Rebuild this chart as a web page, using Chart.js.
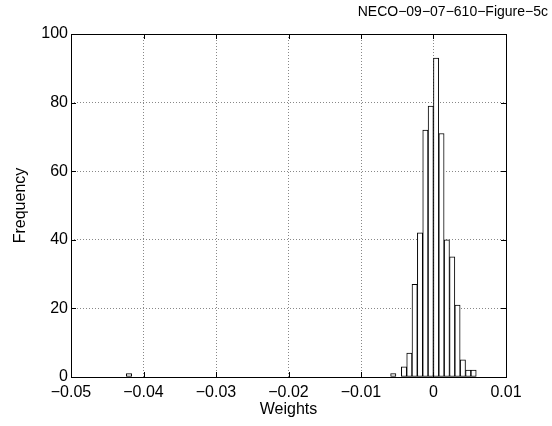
<!DOCTYPE html>
<html>
<head>
<meta charset="utf-8">
<script src="https://cdn.jsdelivr.net/npm/chart.js@4.4.1/dist/chart.umd.min.js"></script>
<style>
  html, body { margin: 0; background: #fff; }
  #wrap { width: 552px; height: 426px; }
</style>
</head>
<body>
<div id="wrap"><canvas id="histChart"></canvas></div>
<script>
/* --- Data --- */
const TITLE = 'NECO\u221209\u221207\u2212610\u2212Figure\u22125c';
const binCenters = [-0.04200, -0.00555, -0.00481, -0.00407, -0.00333, -0.00260, -0.00186,
                    -0.00112, -0.00038, 0.00036, 0.00110, 0.00184, 0.00258, 0.00331,
                    0.00405, 0.00479, 0.00553];
const counts = [1, 1, 0, 3, 7, 27, 42, 72, 79, 93, 71, 40, 35, 21, 5, 2, 2];
const xTicks = [-0.05, -0.04, -0.03, -0.02, -0.01, 0, 0.01];
const yTicks = [0, 20, 40, 60, 80, 100];

const FONT = '"Liberation Sans", Arial, Helvetica, sans-serif';
const TICK_LEN = 5;

Chart.defaults.font.family = FONT;
Chart.defaults.font.size = 16;
Chart.defaults.color = '#000';

function fmt(v) {
  if (Math.abs(v) < 1e-12) return '0';
  return (v < 0 ? '\u2212' : '') + Math.abs(v).toFixed(2);
}

/* --- MATLAB-ish box, inward ticks and the corner title --- */
const axesBoxPlugin = {
  id: 'axesBox',
  afterDraw(chart) {
    const { ctx, chartArea: { left, right, top, bottom }, scales: { x, y } } = chart;
    ctx.save();
    ctx.strokeStyle = '#000';
    ctx.lineWidth = 1;
    ctx.beginPath();
    xTicks.forEach(v => {
      const px = Math.round(x.getPixelForValue(v)) + 0.5;
      ctx.moveTo(px, bottom); ctx.lineTo(px, bottom - TICK_LEN);
      ctx.moveTo(px, top); ctx.lineTo(px, top + TICK_LEN);
    });
    yTicks.forEach(v => {
      const py = Math.round(y.getPixelForValue(v)) + 0.5;
      ctx.moveTo(left, py); ctx.lineTo(left + TICK_LEN, py);
      ctx.moveTo(right, py); ctx.lineTo(right - TICK_LEN, py);
    });
    ctx.stroke();
    ctx.strokeRect(Math.round(left) + 0.5, Math.round(top) + 0.5,
                   Math.round(right - left), Math.round(bottom - top));

    // corner caption
    ctx.fillStyle = '#000';
    ctx.font = '14px ' + FONT;
    ctx.textAlign = 'right';
    ctx.textBaseline = 'middle';
    ctx.fillText(TITLE, 548, 12);
    ctx.restore();
  }
};

const chart = new Chart(document.getElementById('histChart'), {
  type: 'bar',
  data: {
    datasets: [{
      data: binCenters.map((c, i) => ({ x: c, y: counts[i] })),
      backgroundColor: '#fff',
      borderColor: '#000',
      borderWidth: 1,
      borderSkipped: false,
      barPercentage: 1,
      categoryPercentage: 1
    }]
  },
  options: {
    responsive: true,
    maintainAspectRatio: false,
    animation: false,
    layout: { padding: { top: 34, right: 46, left: 0, bottom: 0 } },
    plugins: { legend: { display: false }, tooltip: { enabled: false } },
    scales: {
      x: {
        type: 'linear',
        min: -0.05,
        max: 0.01,
        offset: false,
        afterBuildTicks: scale => { scale.ticks = xTicks.map(v => ({ value: v })); },
        afterFit: scale => { scale.height = 49; },
        ticks: { callback: v => fmt(v), maxRotation: 0, autoSkip: false, padding: 6 },
        grid: { color: '#888', lineWidth: 1, drawTicks: false, offset: false },
        border: { display: false, dash: [1, 2] },
        title: { display: true, text: 'Weights', padding: { top: 0, bottom: 7 } }
      },
      y: {
        min: 0,
        max: 100,
        afterBuildTicks: scale => { scale.ticks = yTicks.map(v => ({ value: v })); },
        afterFit: scale => { scale.width = 71; },
        ticks: { padding: 3 },
        grid: { color: '#888', lineWidth: 1, drawTicks: false },
        border: { display: false, dash: [1, 2] },
        title: { display: true, text: 'Frequency', padding: { top: 11, bottom: 0 } }
      }
    }
  },
  plugins: [axesBoxPlugin]
});
</script>
</body>
</html>
